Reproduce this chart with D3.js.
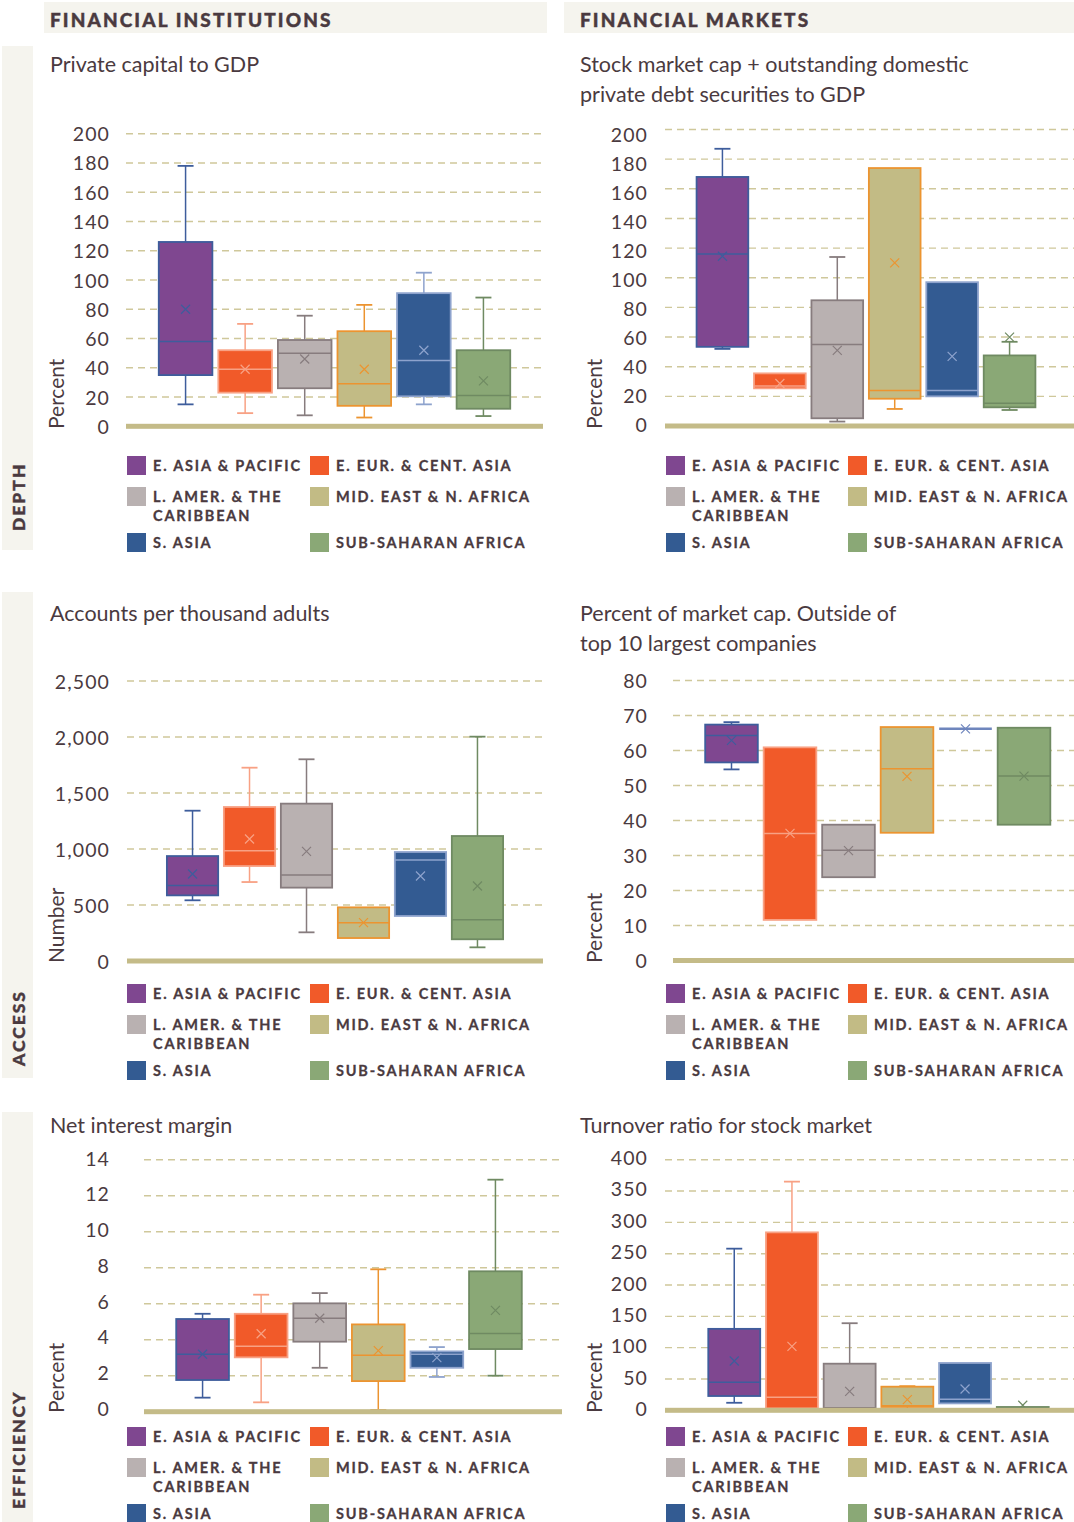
<!DOCTYPE html>
<html>
<head>
<meta charset="utf-8">
<script src="https://cdn.jsdelivr.net/npm/d3@7"></script>
<style>
  html, body { margin: 0; padding: 0; background: #ffffff; }
  svg { display: block; }
  text { fill: #4a3a40; }
</style>
</head>
<body>
<svg id="chart" width="1074" height="1522"></svg>
<script>
// Regions, in plotting order
const regions = ["E. ASIA & PACIFIC", "E. EUR. & CENT. ASIA", "L. AMER. & THE CARIBBEAN",
                 "MID. EAST & N. AFRICA", "S. ASIA", "SUB-SAHARAN AFRICA"];
const legendLines = [["E. ASIA & PACIFIC"], ["E. EUR. & CENT. ASIA"], ["L. AMER. & THE", "CARIBBEAN"],
                     ["MID. EAST & N. AFRICA"], ["S. ASIA"], ["SUB-SAHARAN AFRICA"]];
const fillColors   = ["#7f4790", "#f15a29", "#b9b1b1", "#c2bb85", "#335b92", "#8aa876"];
const strokeColors = ["#3e5d9c", "#f8a184", "#877c7e", "#ec9430", "#8ea3cd", "#6f8a62"];

// Box statistics per region: [min, q1, median, q3, max, mean]
const privateCapital = [
  [15, 35, 58, 126, 178, 80],
  [9, 23, 39, 52, 70, 39],
  [7.5, 26, 50, 59, 75.6, 46],
  [6, 14, 29, 65, 83, 39],
  [15, 20.5, 45, 91, 105, 52],
  [7, 12, 21, 52, 88, 31]
];
const marketCapDebt = [
  [52, 53.4, 116, 168, 187, 114.5],
  [25.4, 25.4, 27, 35.5, 35.5, 28.7],
  [3, 5.2, 55, 84.8, 114, 51],
  [11.5, 18.4, 24, 174, 174, 110],
  [20, 20, 24, 97, 97, 47],
  [10.8, 12.6, 15.3, 47.6, 56.8, 60]
];
const accountsPerThousand = [
  [542, 586, 673, 937, 1342, 777],
  [705, 848, 985, 1375, 1726, 1089],
  [256, 655, 768, 1405, 1801, 979],
  [205, 205, 342, 479, 479, 342],
  [402, 402, 902, 973, 973, 759],
  [122, 194, 369, 1116, 2003, 670]
];
const outsideTop10 = [
  [54.6, 56.6, 64.3, 67.4, 68.1, 62.9],
  [11.6, 11.6, 36.3, 60.9, 60.9, 36.3],
  [23.8, 23.8, 31.5, 38.8, 38.8, 31.4],
  [36.5, 36.5, 54.8, 66.7, 66.7, 52.6],
  [66.2, 66.2, 66.2, 66.2, 66.2, 66.2],
  [38.8, 38.8, 52.7, 66.5, 66.5, 52.7]
];
const netInterestMargin = [
  [0.78, 1.76, 3.19, 5.15, 5.44, 3.19],
  [0.52, 3.02, 3.63, 5.44, 6.5, 4.33],
  [2.44, 3.89, 5.19, 6.02, 6.59, 5.19],
  [0.1, 1.7, 3.13, 4.85, 7.91, 3.39],
  [1.93, 2.44, 3.19, 3.35, 3.59, 3.0],
  [2.0, 3.48, 4.35, 7.8, 12.89, 5.63]
];
const turnoverRatio = [
  [12, 22.8, 44.7, 130, 258, 78.7],
  [3, 3, 20.7, 284, 365, 102],
  [3, 3, 4, 74.4, 139, 30.3],
  [1, 5.3, 7.3, 37.7, 38.5, 17],
  [11, 11, 17.5, 75.5, 75.5, 34],
  [3, 3, 4, 5.3, 5.3, 8]
];

// Tick values per panel
const ticksPrivateCapital = [0, 20, 40, 60, 80, 100, 120, 140, 160, 180, 200];
const ticksMarketCapDebt  = [0, 20, 40, 60, 80, 100, 120, 140, 160, 180, 200];
const ticksAccounts       = [0, 500, 1000, 1500, 2000, 2500];
const ticksOutsideTop10   = [0, 10, 20, 30, 40, 50, 60, 70, 80];
const ticksInterest       = [0, 2, 4, 6, 8, 10, 12, 14];
const ticksTurnover       = [0, 50, 100, 150, 200, 250, 300, 350, 400];

const columnHeads = ["FINANCIAL INSTITUTIONS", "FINANCIAL MARKETS"];
const rowHeads = ["DEPTH", "ACCESS", "EFFICIENCY"];

const svg = d3.select("#chart");
const ink = "#4a3a40";
const bandFill = "#f5f4ee";
const gridColor = "#cfc89b";
const baseColor = "#c4bb88";
const titleFont = "Lato, 'Open Sans', sans-serif";
const boldFont = "Lato, 'Open Sans', sans-serif";

// Column header bands
const heads = [{x: 44, w: 503, tx: 50}, {x: 564, w: 510, tx: 580}];
heads.forEach((h, i) => {
  svg.append("rect").attr("x", h.x).attr("y", 2).attr("width", h.w).attr("height", 31).attr("fill", bandFill);
  svg.append("text").attr("x", h.tx).attr("y", 27)
    .style("font-family", boldFont).style("font-weight", 900).style("font-size", "19px")
    .style("letter-spacing", "2.1px").style("stroke", ink).style("stroke-width", 0.4).text(columnHeads[i]);
});

// Row header bands with vertical labels
const rows = [{y0: 46, y1: 550, tb: 531}, {y0: 592, y1: 1078, tb: 1066}, {y0: 1112, y1: 1522, tb: 1509}];
rows.forEach((r, i) => {
  svg.append("rect").attr("x", 2).attr("y", r.y0).attr("width", 31).attr("height", r.y1 - r.y0).attr("fill", bandFill);
  svg.append("text").attr("transform", `translate(25,${r.tb}) rotate(-90)`)
    .style("font-family", boldFont).style("font-weight", 900).style("font-size", "17.5px")
    .style("letter-spacing", "2px").style("stroke", ink).style("stroke-width", 0.4).text(rowHeads[i]);
});

const panels = [
  { title: ["Private capital to GDP"], tx: 50, ty: 72, data: privateCapital, ticks: ticksPrivateCapital,
    domain: [0, 200], yRange: [426.3, 133.7], xRange: [126, 543], pad: 1, gridEnd: 543,
    labelX: 110, axisTitle: "Percent", atX: 64, atY: 429, legX: 127, legX2: 310, legY: 456 },
  { title: ["Stock market cap + outstanding domestic", "private debt securities to GDP"], tx: 580, ty: 72,
    data: marketCapDebt, ticks: ticksMarketCapDebt,
    domain: [0, 200], yRange: [426, 129.5], labelRange: [424.5, 134.5], xRange: [665, 1067], pad: 1, gridEnd: 1074,
    labelX: 648, axisTitle: "Percent", atX: 602, atY: 429, legX: 666, legX2: 848, legY: 456 },
  { title: ["Accounts per thousand adults"], tx: 50, ty: 621, data: accountsPerThousand, ticks: ticksAccounts,
    domain: [0, 2500], yRange: [961, 681], xRange: [127, 543], pad: 1.15, gridEnd: 543,
    labelX: 110, axisTitle: "Number", atX: 64, atY: 963, legX: 127, legX2: 310, legY: 984, fmt: d3.format(",") },
  { title: ["Percent of market cap. Outside of", "top 10 largest companies"], tx: 580, ty: 621,
    data: outsideTop10, ticks: ticksOutsideTop10,
    domain: [0, 80], yRange: [960.5, 680.5], xRange: [673, 1082.5], pad: 1, gridEnd: 1074,
    labelX: 648, axisTitle: "Percent", atX: 602, atY: 963, legX: 666, legX2: 848, legY: 984 },
  { title: ["Net interest margin"], tx: 50, ty: 1133, data: netInterestMargin, ticks: ticksInterest,
    domain: [0, 14], yRange: [1411.7, 1159.7], labelRange: [1408.5, 1158], xRange: [144, 554], pad: 1, gridEnd: 562,
    labelX: 110, axisTitle: "Percent", atX: 64, atY: 1413, legX: 127, legX2: 310, legY: 1427 },
  { title: ["Turnover ratio for stock market"], tx: 580, ty: 1133, data: turnoverRatio, ticks: ticksTurnover,
    domain: [0, 400], yRange: [1410.3, 1159.7], labelRange: [1408.5, 1157.5], xRange: [665, 1092], pad: 1.2, gridEnd: 1074,
    labelX: 648, axisTitle: "Percent", atX: 602, atY: 1413, legX: 666, legX2: 848, legY: 1427 }
];

panels.forEach(p => {
  const g = svg.append("g");
  const x = d3.scalePoint().domain(regions).range(p.xRange).padding(p.pad);
  const y = d3.scaleLinear().domain(p.domain).range(p.yRange);
  const yLabel = d3.scaleLinear().domain(p.domain).range(p.labelRange || p.yRange);
  const bw = x.step() * 0.9;

  // Title
  p.title.forEach((line, i) => {
    g.append("text").attr("x", p.tx).attr("y", p.ty + i * 29.5)
      .style("font-family", titleFont).style("font-size", "21.5px").style("font-weight", 400)
      .text(line);
  });

  // Dashed gridlines
  g.selectAll(".grid").data(p.ticks.filter(t => t > 0)).join("line")
    .attr("x1", p.xRange[0]).attr("x2", p.gridEnd)
    .attr("y1", d => y(d)).attr("y2", d => y(d))
    .attr("stroke", gridColor).attr("stroke-width", 1.4).attr("stroke-dasharray", "7,5");

  // Y axis labels
  const axis = d3.axisLeft(yLabel).tickValues(p.ticks).tickSize(0).tickPadding(0)
    .tickFormat(p.fmt || d3.format("d"));
  const ag = g.append("g").attr("transform", `translate(${p.labelX},0)`).call(axis);
  ag.select(".domain").remove();
  ag.selectAll("text").attr("dy", "0.36em")
    .style("font-family", "Lato, 'Open Sans', sans-serif").style("font-size", "19.5px")
    .style("fill", ink).style("letter-spacing", "1.1px");

  // Axis title
  g.append("text").attr("transform", `translate(${p.atX},${p.atY}) rotate(-90)`)
    .style("font-family", titleFont).style("font-size", "21px").text(p.axisTitle);

  // Boxes
  p.data.forEach((s, i) => {
    const [mn, q1, med, q3, mx, mean] = s;
    const cx = x(regions[i]);
    const bg = g.append("g");
    const sc = strokeColors[i];
    const flat = q3 === q1;
    if (mx > q3) {
      bg.append("line").attr("x1", cx).attr("x2", cx).attr("y1", y(q3)).attr("y2", y(mx))
        .attr("stroke", sc).attr("stroke-width", 1.5);
      bg.append("line").attr("x1", cx - 8).attr("x2", cx + 8).attr("y1", y(mx)).attr("y2", y(mx))
        .attr("stroke", sc).attr("stroke-width", 1.8);
    }
    if (mn < q1) {
      bg.append("line").attr("x1", cx).attr("x2", cx).attr("y1", y(q1)).attr("y2", y(mn))
        .attr("stroke", sc).attr("stroke-width", 1.5);
      bg.append("line").attr("x1", cx - 8).attr("x2", cx + 8).attr("y1", y(mn)).attr("y2", y(mn))
        .attr("stroke", sc).attr("stroke-width", 1.8);
    }
    const boxStroke = flat ? "#6f86bd" : sc;
    bg.append("rect").attr("x", cx - bw / 2).attr("y", y(q3))
      .attr("width", bw).attr("height", Math.max(0, y(q1) - y(q3)))
      .attr("fill", fillColors[i]).attr("stroke", boxStroke).attr("stroke-width", flat ? 2.4 : 1.8);
    bg.append("line").attr("x1", cx - bw / 2).attr("x2", cx + bw / 2)
      .attr("y1", y(med)).attr("y2", y(med)).attr("stroke", boxStroke).attr("stroke-width", flat ? 2.4 : 1.5);
    const my = y(mean), m = 4.5;
    bg.append("path").attr("d", `M${cx - m},${my - m}L${cx + m},${my + m}M${cx - m},${my + m}L${cx + m},${my - m}`)
      .attr("stroke", boxStroke).attr("stroke-width", 1.2).attr("fill", "none");
  });

  // Baseline bar
  g.append("rect").attr("x", p.xRange[0]).attr("y", y(0) - 2.5)
    .attr("width", p.gridEnd - p.xRange[0]).attr("height", 5).attr("fill", baseColor);

  // Legend
  const rowOff = [0, 0, 31, 31, 77, 77];
  legendLines.forEach((lines, i) => {
    const lx = i % 2 === 0 ? p.legX : p.legX2;
    const ly = p.legY + rowOff[i];
    g.append("rect").attr("x", lx).attr("y", ly).attr("width", 19).attr("height", 19).attr("fill", fillColors[i]);
    lines.forEach((t, k) => {
      g.append("text").attr("x", lx + 26).attr("y", ly + 15 + k * 19)
        .style("font-family", boldFont).style("font-weight", 700).style("font-size", "14.5px")
        .style("letter-spacing", "1.8px").style("stroke", ink).style("stroke-width", 0.3).text(t);
    });
  });
});
</script>
</body>
</html>
